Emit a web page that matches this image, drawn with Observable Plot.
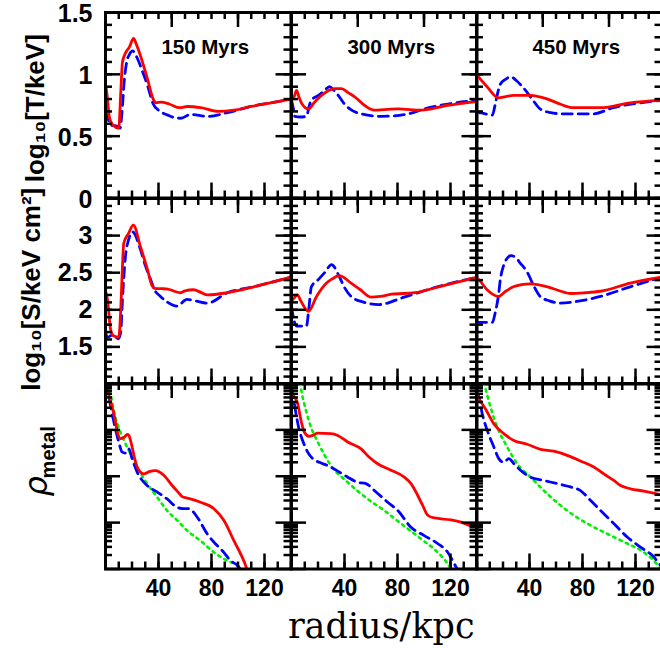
<!DOCTYPE html>
<html><head><meta charset="utf-8">
<script src="https://cdn.jsdelivr.net/npm/d3@7"></script>
<script src="https://cdn.jsdelivr.net/npm/@observablehq/plot@0.6"></script>
<style>
html,body{margin:0;padding:0;overflow:hidden;background:#fff;}
#chart{position:relative;width:660px;height:648px;overflow:hidden;background:#fff;}
#chart svg{position:absolute;}
</style></head>
<body><div id="chart"></div>
<script>
// ---- labels ----
const epochs = ["150 Myrs", "300 Myrs", "450 Myrs"];
const xTickLabels = [40, 80, 120];
const tTickLabels = [0, 0.5, 1, 1.5];
const sTickLabels = [1.5, 2, 2.5, 3];
const yTitleT = "log\u2081\u2080[T/keV]";
const yTitleS = "log\u2081\u2080[S/keV cm\u00b2]";
const xTitle = "radius/kpc";

// ---- log10 temperature [r (kpc), value] ----
const T150_solid = [[0,0.92],[1,0.85],[3,0.65],[5.5,0.59],[10,0.565],[11.5,0.85],[12.8,1.1],[15,1.17],[18,1.22],[21.2,1.29],[23,1.25],[27,1.13],[32,0.95],[36,0.8],[38,0.77],[42,0.775],[48,0.76],[56,0.73],[62,0.74],[72,0.73],[85,0.70],[97,0.71],[110,0.74],[125,0.77],[140,0.80]];
const T150_dash = [[0,0.7],[1.5,0.66],[3.5,0.59],[9,0.58],[11,0.565],[12.5,0.7],[14,0.93],[16,1.1],[18,1.16],[20.4,1.19],[24,1.13],[28,1.02],[32,0.9],[36,0.76],[40,0.71],[47,0.67],[52,0.65],[57,0.645],[64,0.675],[77,0.66],[92,0.69],[112,0.745],[125,0.77],[140,0.80]];
const T300_solid = [[0,0.79],[2,0.82],[3.8,0.87],[5.5,0.82],[8,0.76],[12.8,0.72],[17,0.77],[22.6,0.83],[28,0.87],[32.4,0.885],[37.7,0.885],[43,0.85],[47.5,0.82],[55,0.75],[62.6,0.71],[70,0.715],[80.6,0.72],[98,0.71],[118,0.75],[140,0.78]];
const T300_dash = [[0,0.79],[1.5,0.72],[2.5,0.66],[7,0.655],[11.3,0.66],[13.5,0.75],[15,0.79],[20.4,0.83],[25,0.87],[28.7,0.9],[32,0.87],[36,0.82],[40,0.76],[44,0.72],[53,0.68],[68,0.66],[88,0.68],[100,0.72],[118,0.76],[140,0.79]];
const T450_solid = [[0,1.0],[1.5,0.98],[8,0.9],[16.6,0.81],[22,0.82],[27.9,0.83],[40.7,0.83],[53.6,0.80],[63,0.76],[73,0.73],[93.6,0.73],[116,0.77],[140,0.79]];
const T450_dash = [[0,0.69],[1.5,0.69],[12,0.67],[14,0.75],[16,0.85],[18,0.92],[22,0.96],[25.7,0.98],[30,0.95],[35.5,0.89],[42,0.8],[48,0.72],[56,0.69],[65.6,0.68],[88,0.68],[103,0.73],[124,0.77],[140,0.79]];

// ---- log10 entropy ----
const S150_solid = [[0,2.25],[1.5,2.14],[3.8,1.74],[6,1.65],[10,1.63],[11.5,2.0],[12.6,2.5],[13.8,2.9],[17.4,3.03],[21,3.14],[26.4,2.85],[31.7,2.54],[35,2.33],[37,2.29],[42,2.285],[47,2.28],[52,2.25],[56.6,2.23],[60,2.255],[66.4,2.27],[72,2.235],[77,2.2],[92,2.23],[112,2.31],[125,2.37],[140,2.44]];
const S150_dash = [[0,1.7],[1.5,1.63],[5.3,1.66],[9.8,1.61],[11.5,1.7],[12.8,2.14],[15,2.71],[17.5,2.95],[20.4,3.05],[26.4,2.81],[30,2.6],[34,2.41],[37,2.27],[41.5,2.18],[47,2.1],[54,2.05],[61.5,2.14],[68,2.12],[77,2.09],[92,2.23],[112,2.31],[125,2.37],[140,2.44]];
const S300_solid = [[0,2.12],[2,2.16],[4.5,2.2],[7,2.12],[12.8,1.98],[18.9,2.18],[26.4,2.36],[31,2.42],[36,2.46],[45,2.36],[52,2.27],[60,2.17],[67,2.18],[75.5,2.21],[93,2.23],[111,2.31],[140,2.44]];
const S300_dash = [[0,2.05],[2,1.85],[3.8,1.78],[11.3,1.78],[13,2.0],[15,2.31],[20.4,2.41],[25,2.5],[30.2,2.61],[36,2.45],[40,2.3],[45,2.18],[55,2.1],[65.6,2.07],[85,2.17],[108,2.3],[140,2.44]];
const S450_solid = [[0,2.43],[1.5,2.41],[8,2.27],[16.6,2.18],[22,2.25],[27.9,2.31],[34,2.34],[40.7,2.35],[53.6,2.31],[62,2.26],[71,2.22],[82,2.23],[93.6,2.25],[116,2.36],[140,2.44]];
const S450_dash = [[0,1.83],[12,1.83],[14,1.95],[16.6,2.2],[18,2.41],[20.5,2.6],[23.4,2.7],[26,2.73],[29.3,2.71],[33,2.63],[38.5,2.5],[43,2.33],[48,2.18],[55,2.12],[63,2.09],[78,2.12],[93.6,2.18],[116,2.31],[140,2.44]];

// ---- log10 metal density (arbitrary units, 4 decades shown) ----
const rho150_solid = [[0,0],[1,-0.1],[3,-0.3],[6.3,-0.65],[9.3,-1.08],[11.3,-1.19],[14,-1.16],[16.5,-1.1],[17.6,-1.12],[20.1,-1.37],[22,-1.62],[23.9,-1.8],[26,-1.9],[28.9,-1.95],[33,-1.9],[37.7,-1.88],[44,-1.98],[50.3,-2.2],[55,-2.35],[57.9,-2.44],[61.6,-2.47],[71.7,-2.56],[81.8,-2.7],[89.3,-2.95],[96.9,-3.39],[105.7,-3.92],[110,-4.3]];
const rho150_dash = [[0,0],[1.3,-0.11],[5,-0.65],[7.5,-0.98],[10,-1.26],[12.6,-1.48],[15.1,-1.5],[17.6,-1.41],[20.1,-1.62],[23.9,-1.91],[31.4,-2.2],[39,-2.34],[46.5,-2.49],[54.1,-2.67],[59.1,-2.7],[62.9,-2.7],[69.2,-2.88],[76.7,-3.24],[81.8,-3.42],[89.3,-3.64],[94.3,-3.82],[99.4,-3.92],[103,-4.05]];
const rho150_dot = [[2,0],[3.8,-0.22],[7.5,-0.73],[11.3,-1.05],[15.1,-1.3],[18.9,-1.52],[23.9,-1.8],[31.4,-2.16],[39,-2.45],[46.5,-2.74],[54.1,-2.95],[61.6,-3.17],[71.7,-3.39],[81.8,-3.64],[91.8,-3.82],[99.4,-3.92],[104,-4.05]];
const rho300_solid = [[0,-0.15],[0.9,-0.22],[4.7,-0.44],[7.2,-0.8],[9.7,-1.05],[13.4,-1.14],[16,-1.12],[19.8,-1.07],[29.8,-1.08],[34.9,-1.12],[42.4,-1.26],[52.5,-1.41],[58.7,-1.59],[65,-1.73],[75.1,-1.87],[85.1,-2.02],[90.2,-2.16],[95.2,-2.41],[99,-2.63],[102.8,-2.84],[107.8,-2.9],[120.4,-2.94],[128,-2.99],[134.2,-3.06]];
const rho300_dash = [[0,-0.1],[0.9,-0.22],[3.4,-0.65],[5.9,-1.01],[8.4,-1.23],[12.2,-1.48],[16,-1.62],[21,-1.7],[27.3,-1.77],[36.1,-1.91],[42.4,-2.02],[50,-2.13],[56.2,-2.16],[63.8,-2.34],[72.6,-2.56],[80.2,-2.74],[90.2,-3.1],[100.2,-3.28],[110.3,-3.45],[117.9,-3.64],[122.9,-3.89],[126,-4.05]];
const rho300_dot = [[6.5,0.02],[7.2,-0.11],[10.9,-0.58],[14.7,-0.94],[19.8,-1.26],[29.8,-1.77],[42.4,-2.13],[57.5,-2.49],[70,-2.74],[82.6,-3.02],[97.7,-3.35],[110.3,-3.64],[117.9,-3.89],[121,-4.05]];
const rho450_solid = [[0,-0.25],[1.8,-0.33],[6.8,-0.55],[13.1,-0.87],[20.6,-1.08],[28.2,-1.23],[38.2,-1.31],[48.3,-1.42],[58.4,-1.46],[68.4,-1.55],[78.5,-1.67],[88.5,-1.8],[96.1,-1.95],[103.6,-2.09],[108.7,-2.2],[116.2,-2.27],[126.3,-2.32],[137.6,-2.39],[141,-2.41]];
const rho450_dash = [[0,-0.2],[1.8,-0.29],[4.3,-0.65],[8.1,-1.01],[13.1,-1.37],[16.8,-1.62],[20.6,-1.7],[24.4,-1.62],[28.2,-1.73],[33.2,-1.87],[40.8,-2.02],[50.8,-2.09],[60.9,-2.16],[70.9,-2.23],[78.5,-2.31],[86,-2.52],[93.6,-2.74],[103.6,-3.02],[113.7,-3.31],[123.8,-3.53],[133.8,-3.74],[138.9,-3.92],[141,-3.98]];
const rho450_dot = [[5.5,0.02],[6.8,-0.11],[10.6,-0.51],[15.6,-0.94],[23.2,-1.37],[30.7,-1.73],[40.8,-2.02],[53.4,-2.38],[68.4,-2.74],[83.5,-3.02],[98.6,-3.24],[113.7,-3.45],[126.3,-3.64],[133.8,-3.82],[138,-3.95],[141,-4.02]];

const seriesGrid = [
  [[null, T150_dash, T150_solid], [null, T300_dash, T300_solid], [null, T450_dash, T450_solid]],
  [[null, S150_dash, S150_solid], [null, S300_dash, S300_solid], [null, S450_dash, S450_solid]],
  [[rho150_dot, rho150_dash, rho150_solid], [rho300_dot, rho300_dash, rho300_solid], [rho450_dot, rho450_dash, rho450_solid]]
];

// ---- layout ----
const W = 185.5, H = 185.5, X0 = 105, Y0 = 12;
const MINOR = 7, MAJOR = 15;
const SANS = "Liberation Sans, Arial, sans-serif";
const xTickFont = {fontFamily: SANS, fontWeight: "bold", fontSize: 23, fill: "black", lineAnchor: "middle", textAnchor: "middle"};
const yTickFont = {fontFamily: SANS, fontWeight: "bold", fontSize: 25, fill: "black", lineAnchor: "middle", textAnchor: "end"};

const xMinor = d3.range(0, 141, 10);
const xMajorTop = [50, 100];
const xMajorBottom = [40, 80, 120];

const rows = [
  {domain: [0, 1.5], type: "linear", minor: d3.range(0, 16).map(i => i / 10), major: [0, 0.5, 1, 1.5], labels: tTickLabels, yv: v => v},
  {domain: [1, 3.5], type: "linear", minor: d3.range(10, 36).map(i => i / 10), major: [1, 1.5, 2, 2.5, 3, 3.5], labels: sTickLabels, yv: v => v},
  {domain: [1e-4, 1], type: "log",
   minor: d3.range(-4, 0).flatMap(n => d3.range(2, 10).map(k => k * Math.pow(10, n))),
   major: [1e-4, 1e-3, 1e-2, 1e-1, 1], labels: [], yv: v => Math.pow(10, v)}
];

const chart = document.getElementById("chart");

for (let row = 0; row < 3; row++) {
  for (let col = 0; col < 3; col++) {
    const R = rows[row];
    const [dotted, dashed, solid] = seriesGrid[row][col];
    const tk = {stroke: "black", strokeWidth: 2.5};
    const marks = [];
    if (dotted) marks.push(Plot.line(dotted, {x: d => d[0], y: d => R.yv(d[1]), stroke: "#00f000", strokeWidth: 2.6, strokeDasharray: "2.5,4.5", curve: "monotone-x", clip: true}));
    marks.push(Plot.line(dashed, {x: d => d[0], y: d => R.yv(d[1]), stroke: "#0000ff", strokeWidth: 2.8, strokeDasharray: "10,6", curve: "monotone-x", clip: true}));
    marks.push(Plot.line(solid, {x: d => d[0], y: d => R.yv(d[1]), stroke: "#ff0000", strokeWidth: 2.8, curve: "monotone-x", clip: true}));
    // x ticks (inward), top and bottom
    marks.push(Plot.tickX(xMinor, {x: d => d, insetBottom: H - MINOR, ...tk}));
    marks.push(Plot.tickX(xMajorTop, {x: d => d, insetBottom: H - MAJOR, ...tk}));
    marks.push(Plot.tickX(xMinor, {x: d => d, insetTop: H - MINOR, ...tk}));
    marks.push(Plot.tickX(xMajorBottom, {x: d => d, insetTop: H - MAJOR, ...tk}));
    // y ticks (inward), left and right
    marks.push(Plot.tickY(R.minor, {y: d => d, insetRight: W - MINOR, ...tk}));
    marks.push(Plot.tickY(R.major, {y: d => d, insetRight: W - MAJOR, ...tk}));
    marks.push(Plot.tickY(R.minor, {y: d => d, insetLeft: W - MINOR, ...tk}));
    marks.push(Plot.tickY(R.major, {y: d => d, insetLeft: W - MAJOR, ...tk}));
    marks.push(Plot.frame({stroke: "black", strokeWidth: 3}));
    // tick labels
    if (row === 2) marks.push(Plot.text(xTickLabels, {x: d => d, text: d => String(d), frameAnchor: "bottom", dy: 20, ...xTickFont}));
    if (col === 0 && R.labels.length) marks.push(Plot.text(R.labels, {y: d => d, text: d => String(d), frameAnchor: "left", dx: -13, dy: row === 0 ? 1.5 : 0, ...yTickFont}));
    // epoch label
    if (row === 0) marks.push(Plot.text([epochs[col]], {text: d => d, frameAnchor: "top", dx: 7, dy: 35, textAnchor: "middle", lineAnchor: "middle", fontFamily: SANS, fontWeight: "bold", fontSize: 20.5, fill: "black"}));
    // axis titles
    const rot = {rotate: -90, textAnchor: "middle", lineAnchor: "middle", fill: "black"};
    if (col === 0 && row === 0) marks.push(Plot.text([yTitleT], {text: d => d, frameAnchor: "left", dx: -70, dy: 3, ...rot, fontFamily: SANS, fontWeight: "bold", fontSize: 26}));
    if (col === 0 && row === 1) marks.push(Plot.text([yTitleS], {text: d => d, frameAnchor: "left", dx: -74, dy: -2, ...rot, fontFamily: SANS, fontWeight: "bold", fontSize: 26}));
    if (col === 0 && row === 2) {
      marks.push(Plot.text(["\u03c1"], {text: d => d, frameAnchor: "left", dx: -69, dy: 10, ...rot, fontFamily: "DejaVu Sans, sans-serif", fontStyle: "italic", fontSize: 32}));
      marks.push(Plot.text(["metal"], {text: d => d, frameAnchor: "left", dx: -56.5, dy: -24, ...rot, fontFamily: SANS, fontWeight: "bold", fontSize: 20}));
    }
    if (row === 2 && col === 1) marks.push(Plot.text([xTitle], {text: d => d, frameAnchor: "bottom", dx: -3, dy: 58, textAnchor: "middle", lineAnchor: "middle", fontFamily: "DejaVu Serif, serif", fontSize: 35, fill: "black"}));

    const svg = Plot.plot({
      width: W, height: H, margin: 0,
      x: {domain: [0, 140], axis: null},
      y: {domain: R.domain, type: R.type, axis: null},
      style: {background: "none", overflow: "visible"},
      marks
    });
    svg.style.left = (X0 + col * W) + "px";
    svg.style.top = (Y0 + row * H) + "px";
    chart.appendChild(svg);
  }
}
</script>
</body></html>
